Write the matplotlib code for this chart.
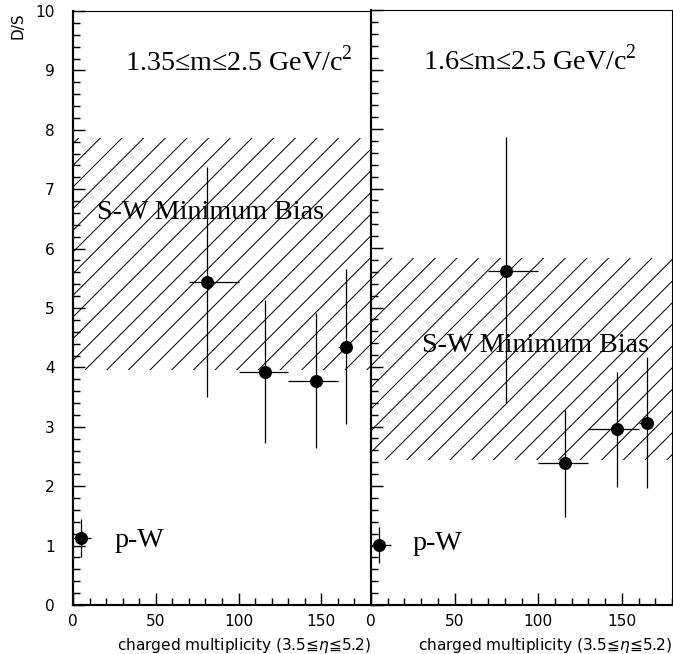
import numpy as np
import matplotlib
matplotlib.use("Agg")
import matplotlib.pyplot as plt

plt.rcParams['mathtext.fontset'] = 'custom'
plt.rcParams['mathtext.rm'] = 'Liberation Serif'
plt.rcParams['mathtext.it'] = 'DejaVu Sans:italic'
plt.rcParams['hatch.linewidth'] = 0.55

# D/S vs charged multiplicity, two mass windows
mult = [5, 81, 116, 147, 165]
bin_lo = [0, 70, 100, 130, 160]
bin_hi_a = [11, 100, 130, 160, 167]
bin_hi_b = [12, 100, 130, 160, 167]

ds_a = [1.12, 5.44, 3.92, 3.77, 4.35]
ds_a_lo = [0.81, 3.50, 2.72, 2.65, 3.05]
ds_a_hi = [1.44, 7.38, 5.13, 4.91, 5.65]

ds_b = [1.01, 5.62, 2.39, 2.96, 3.06]
ds_b_lo = [0.71, 3.40, 1.48, 1.99, 1.97]
ds_b_hi = [1.31, 7.87, 3.27, 3.92, 4.16]

# S-W minimum bias band (lower, upper)
band_a = (3.95, 7.87)
band_b = (2.44, 5.84)

titles = [r"1.35≤m≤2.5 GeV/c$^{2}$", r"1.6≤m≤2.5 GeV/c$^{2}$"]
xlabel = r"charged multiplicity (3.5≦$\eta$≦5.2)"

DPI = 130
fig = plt.figure(figsize=(673 / DPI, 654 / DPI), dpi=DPI)
ax1 = fig.add_axes([73 / 673, 49 / 654, 298 / 673, 594 / 654])
ax2 = fig.add_axes([371 / 673, 49 / 654, 301 / 673, 595 / 654])

serif = dict(family='Liberation Serif', fontsize=15.5)

panels = [
    (ax1, ds_a, ds_a_lo, ds_a_hi, bin_hi_a, band_a, titles[0], (14.5, 6.5), (25, 0.97)),
    (ax2, ds_b, ds_b_lo, ds_b_hi, bin_hi_b, band_b, titles[1], (30.5, 4.26), (25, 0.93)),
]

for ax, y, ylo, yhi, xhi, band, title, sw_pos, pw_pos in panels:
    ax.set_xlim(0, 180)
    ax.set_ylim(0, 10)

    ax.fill_between([0, 180], band[0], band[1], facecolor='none',
                    edgecolor='black', hatch='//', linewidth=0)

    y = np.array(y)
    x = np.array(mult)
    yerr = [y - np.array(ylo), np.array(yhi) - y]
    xerr = [x - np.array(bin_lo), np.array(xhi) - x]
    ax.errorbar(x, y, yerr=yerr, xerr=xerr, fmt='o', color='black',
                markersize=6.2, elinewidth=0.7, capsize=0, zorder=3)

    ax.text(31.3, 9.0, title, va='baseline', ha='left', **serif)
    ax.text(sw_pos[0], sw_pos[1], "S-W Minimum Bias", va='baseline', ha='left', **serif)
    ax.text(pw_pos[0], pw_pos[1], "p-W", va='baseline', ha='left', **serif)

    ax.set_xticks([0, 50, 100, 150])
    ax.set_xticks(np.arange(0, 181, 10), minor=True)
    ax.set_yticks(np.arange(0, 11, 1))
    ax.set_yticks(np.arange(0, 10.01, 0.2), minor=True)
    ax.tick_params(which='both', direction='in', top=False, right=False,
                   width=0.8, labelsize=8.5)
    ax.tick_params(which='major', length=6.5)
    ax.tick_params(which='minor', length=3.8)
    ax.tick_params(axis='y', pad=10)
    ax.tick_params(axis='x', pad=5)

    ax.spines['left'].set_linewidth(1.2)
    ax.spines['bottom'].set_linewidth(1.2)
    ax.spines['top'].set_linewidth(0.6)
    ax.spines['right'].set_linewidth(0.6)

    ax.set_xlabel(xlabel, fontsize=8.5, loc='right', labelpad=4)

ax1.spines['right'].set_visible(False)
ax2.set_yticklabels([])

fig.text(18 / 673, 1 - 12 / 654, "D/S", rotation=90, ha='center', va='top', fontsize=8.5)

fig.savefig("out.png", dpi=DPI)
